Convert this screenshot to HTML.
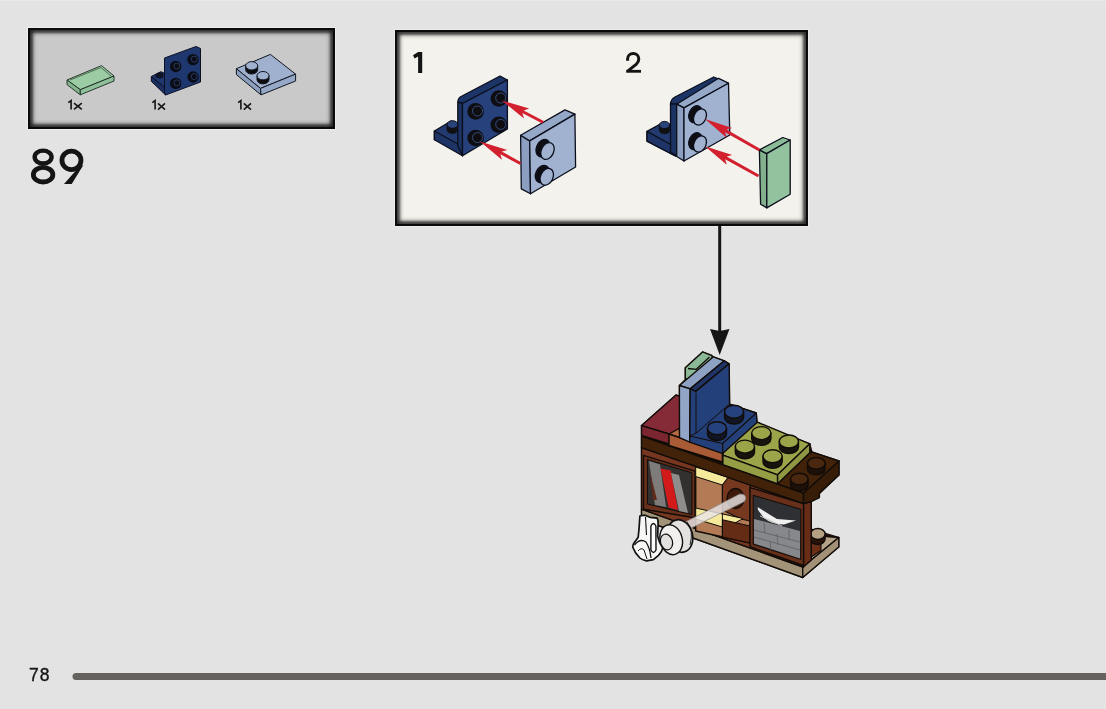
<!DOCTYPE html>
<html><head><meta charset="utf-8">
<style>
html,body{margin:0;padding:0;}
body{width:1106px;height:709px;overflow:hidden;background:#e3e3e3;position:relative;font-family:"Liberation Sans",sans-serif;}
.box{position:absolute;box-sizing:border-box;border:2.5px solid #0a0a0a;box-shadow:0 0 0 1px rgba(250,250,250,0.4), inset 0 0 5px 2px rgba(0,0,0,0.8), inset 0 0 2px 3px rgba(0,0,0,0.35);}
#b1{left:28px;top:28px;width:307px;height:101px;background:#c8c9c8;}
#b2{left:395px;top:30px;width:413px;height:196px;background:#f3f2ec;}
.t{position:absolute;color:#141414;white-space:nowrap;line-height:1;will-change:transform;}
svg{position:absolute;left:0;top:0;}
</style></head><body>
<div style="position:absolute;left:0;top:0;width:1106px;height:1px;background:#e9e9e9;"></div>
<div style="position:absolute;right:0;top:0;width:1px;height:709px;background:#e7e7e7;"></div>
<div class="box" id="b1"></div>
<div class="box" id="b2"></div>
<div class="t" style="left:28.5px;top:667px;font-size:17.5px;letter-spacing:1px;-webkit-text-stroke:0.35px #141414;">78</div>
<svg width="1106" height="709" viewBox="0 0 1106 709">
  <!-- page line -->
  <line x1="76" y1="676.5" x2="1120" y2="676.5" stroke="#66625e" stroke-width="7" stroke-linecap="round"/>
  <!-- 89 -->
  <g fill="none" stroke="#141414">
    <ellipse cx="43.1" cy="157.1" rx="8.45" ry="6.45" stroke-width="4.4"/>
    <ellipse cx="43.1" cy="174.7" rx="9.75" ry="7.3" stroke-width="4.8"/>
    <ellipse cx="71.45" cy="160.35" rx="9.5" ry="9.2" stroke-width="4.8"/>
  </g>
  <path d="M78.6 167.5 L64 184 L71.7 184 L83.4 165 Z" fill="#141414"/>
  <!-- labels -->
  <g fill="none" stroke="#151515" stroke-width="1.6" stroke-linejoin="miter">
    <path d="M68.3 102.6 L71.1 100.6 L71.1 109.4"/><path d="M74 103.2 L81.8 109.4 M81.8 103.2 L74 109.4" stroke-width="1.6"/>
    <path d="M152.3 102.6 L155.1 100.6 L155.1 109.6"/><path d="M158 103.4 L165 109.6 M165 103.4 L158 109.6" stroke-width="1.6"/>
    <path d="M238.1 102.6 L240.9 100.6 L240.9 109.6"/><path d="M243.8 103.4 L251 109.6 M251 103.4 L243.8 109.6" stroke-width="1.6"/>
  </g>
  <path d="M418.1 52.1 L422.2 52.1 L422.2 73 L418.1 73 L418.1 56.5 L414.6 58.6 L413 55.2 Z" fill="#141414"/>
  <path d="M627.6 60.8 L627.6 59 A5.6 5.6 0 0 1 638.8 59 Q638.8 62 636.4 64.2 L627.4 71.4" fill="none" stroke="#141414" stroke-width="3"/><rect x="626.2" y="69.9" width="14.8" height="2.8" fill="#141414"/>
  <!-- left box parts -->
  <g stroke="#1a2a1e" stroke-width="0.9" stroke-linejoin="round">
    <path d="M67 80 L101.5 65.6 L114 76 L80.3 89.7 Z" fill="#9ccca4"/>
    <path d="M67 80 L80.3 89.7 L80.3 94.8 L67 84.6 Z" fill="#86b690"/>
    <path d="M80.3 89.7 L114 76 L114 81 L80.3 94.8 Z" fill="#90c09a"/>
    <path d="M70 80 L101 67.5 L111 76" fill="none" stroke-width="0.6"/>
  </g>
  <g stroke="#0a0f22" stroke-width="1" stroke-linejoin="round">
    <path d="M151.3 76.5 L160.9 71.7 L165 73.5 L165 88 Z" fill="#1f376f"/>
    <path d="M151.3 76.5 L165 88 L165.6 95 L151.3 81.3 Z" fill="#1a2f60"/>
    <ellipse cx="159.5" cy="75.5" rx="3.6" ry="2.6" fill="#111522"/>
    <path d="M164.5 58 L196 46.5 L200.5 48.5 L200.5 82 L165.6 95 L164.5 93 Z" fill="#1f376f"/>
    <g fill="#0b0d16" stroke="none">
      <circle cx="175.7" cy="66.5" r="5.7"/><circle cx="193" cy="59.6" r="5.7"/>
      <circle cx="175.7" cy="83.4" r="5.7"/><circle cx="193" cy="77" r="5.7"/>
    </g>
    <g fill="none" stroke="#34497a" stroke-width="0.7">
      <circle cx="176.9" cy="66" r="3"/><circle cx="194.2" cy="59.1" r="3"/>
      <circle cx="176.9" cy="82.9" r="3"/><circle cx="194.2" cy="76.5" r="3"/>
    </g>
  </g>
  <g stroke="#12161f" stroke-width="1" stroke-linejoin="round">
    <path d="M236.4 68.7 L270.4 54.4 L295.6 74.1 L260.5 88.4 Z" fill="#a0b1cf"/>
    <path d="M236.4 68.7 L260.5 88.4 L261 94.9 L236.4 74.6 Z" fill="#8d9fbf"/>
    <path d="M260.5 88.4 L295.6 74.1 L295.6 81 L261 94.9 Z" fill="#96a8c7"/>
    <path d="M245.7 65.8 L245.7 69.8 A6 4.2 0 0 0 257.7 69.8 L257.7 65.8 Z" fill="#0d0d10"/>
    <ellipse cx="251.7" cy="65.8" rx="6" ry="4.2" fill="#a0b1cf"/>
    <path d="M257 75.7 L257 79.7 A6 4.2 0 0 0 269 79.7 L269 75.7 Z" fill="#0d0d10"/>
    <ellipse cx="263" cy="75.7" rx="6" ry="4.2" fill="#a0b1cf"/>
  </g>
  <!-- step 1 -->
  <g stroke="#0b0f1c" stroke-width="1.3" stroke-linejoin="round">
    <path d="M434.4 131 L451.1 121 L458 123.5 L462.5 148 L434.4 139.7 Z" fill="#233a70"/>
    <path d="M434.4 131 L462.5 146.5 L462.5 155.8 L434.4 139.7 Z" fill="#1f3466"/>
    <path d="M447 124.5 L447 129.5 A5.5 4 0 0 0 458 129.5 L458 124.5 Z" fill="#111" stroke-width="0.8"/>
    <ellipse cx="452.5" cy="124.5" rx="5.5" ry="3.8" fill="#2a4479" stroke-width="1"/>
    <path d="M457.8 102.2 Q458 97.5 462 96 L500 76 L507.4 80 L462.5 103.5 Z" fill="#1d3467"/>
    <path d="M457.8 102.2 L462.5 103.5 L462.5 155.8 L457.8 146 Z" fill="#1c3263"/>
    <path d="M462.5 103.5 L507.4 80 L507.4 129 L462.5 155.8 Z" fill="#26417c"/>
    <g fill="#0e0e12" stroke="none">
      <circle cx="475.6" cy="111.4" r="8.3"/><circle cx="498.8" cy="98.5" r="8.3"/>
      <circle cx="475.6" cy="138" r="8.3"/><circle cx="498.8" cy="124.8" r="8.3"/>
    </g>
    <g fill="none" stroke="#3a5488" stroke-width="0.9">
      <circle cx="477.5" cy="111" r="5"/><circle cx="500.7" cy="98.1" r="5"/>
      <circle cx="477.5" cy="137.6" r="5"/><circle cx="500.7" cy="124.4" r="5"/>
    </g>
  </g>
  <g stroke="#0b0f1c" stroke-width="1.3" stroke-linejoin="round">
    <path d="M520.6 135.3 L529.7 140.9 L530.5 193.8 L521.3 188.9 Z" fill="#8c9fc0"/>
    <path d="M520.6 135.3 L565 109.9 L574.9 114.1 L529.7 140.9 Z" fill="#95a8c8"/>
    <path d="M529.7 140.9 L574.9 114.1 L575.6 167 L530.5 193.8 Z" fill="#a0b2d0"/>
    <ellipse cx="543.0" cy="148.2" rx="6.5" ry="9.100000000000001" transform="rotate(25 543.0 148.2)" fill="#0e0e12"/><path d="M551.5 144.6 L547.0 141.8 L539.0 154.6 L543.5 157.4 Z" fill="#0e0e12" stroke="none"/><ellipse cx="547.5" cy="151.0" rx="6.2" ry="8.8" transform="rotate(25 547.5 151.0)" fill="#a0b2d0"/><ellipse cx="542.3" cy="174.0" rx="6.5" ry="9.100000000000001" transform="rotate(25 542.3 174.0)" fill="#0e0e12"/><path d="M550.8 170.4 L546.3 167.6 L538.3 180.4 L542.8 183.2 Z" fill="#0e0e12" stroke="none"/><ellipse cx="546.8" cy="176.8" rx="6.2" ry="8.8" transform="rotate(25 546.8 176.8)" fill="#a0b2d0"/>
    
  </g>
    <!-- step 2 -->
  <g stroke="#0b0f1c" stroke-width="1.3" stroke-linejoin="round">
    <path d="M647 131.4 L664 122 L676 127 L676 156 L675.4 156 L647 141.2 Z" fill="#233a70"/>
    <path d="M647 131.4 L675.4 147 L675.4 156 L647 141.2 Z" fill="#1f3466"/>
    <path d="M659.3 125 L659.3 130 A5.2 3.8 0 0 0 669.7 130 L669.7 125 Z" fill="#111" stroke-width="0.8"/>
    <ellipse cx="664.5" cy="125" rx="5.2" ry="3.6" fill="#2a4479" stroke-width="1"/>
    <path d="M670.5 104 Q671 99 675 97 L713.7 77 L720 79.5 L676.7 104.2 Z" fill="#1d3467"/>
    <path d="M670.5 104 L676.7 104.2 L676.7 156 L670.5 152 Z" fill="#1c3263"/>
    <path d="M676.7 104.2 L718.6 78.3 L728.5 83.2 L684 107.9 Z" fill="#95a8c8"/>
    <path d="M676.7 104.2 L684 107.9 L684 161 L676.7 156.5 Z" fill="#8c9fc0"/>
    <path d="M684 107.9 L728.5 83.2 L729.8 135 L684 161 Z" fill="#a0b2d0"/>
    <ellipse cx="695.5" cy="114.2" rx="6.3" ry="8.8" transform="rotate(25 695.5 114.2)" fill="#0e0e12"/><path d="M703.8 110.8 L699.3 108.0 L691.7 120.4 L696.2 123.2 Z" fill="#0e0e12" stroke="none"/><ellipse cx="700.0" cy="117.0" rx="6" ry="8.5" transform="rotate(25 700.0 117.0)" fill="#a0b2d0"/><ellipse cx="695.5" cy="141.2" rx="6.3" ry="8.8" transform="rotate(25 695.5 141.2)" fill="#0e0e12"/><path d="M703.8 137.8 L699.3 135.0 L691.7 147.4 L696.2 150.2 Z" fill="#0e0e12" stroke="none"/><ellipse cx="700.0" cy="144.0" rx="6" ry="8.5" transform="rotate(25 700.0 144.0)" fill="#a0b2d0"/>
    
  </g>
  <g stroke="#0b0f1c" stroke-width="1.3" stroke-linejoin="round">
    <path d="M759.4 149.9 L766.8 153.6 L766.8 207.9 L760.6 204.2 Z" fill="#82af8c"/>
    <path d="M759.4 149.9 L782.8 137.5 L790.2 140 L766.8 153.6 Z" fill="#8bba96"/>
    <path d="M766.8 153.6 L790.2 140 L790.2 194.3 L766.8 207.9 Z" fill="#93c29e"/>
  </g>
    <g fill="#d3202f"><path d="M501.8 100.5 L529.2 108.6 L523.7 110.4 L543.7 120.9 L542.3 123.5 L522.3 113.0 L524.0 118.5 Z"/><path d="M480.0 141.5 L507.3 149.9 L501.8 151.6 L521.2 162.2 L519.8 164.8 L500.4 154.3 L501.9 159.8 Z"/><path d="M705.0 119.0 L732.1 128.0 L726.6 129.6 L760.1 148.7 L758.7 151.3 L725.1 132.2 L726.6 137.7 Z"/><path d="M705.0 146.2 L732.2 154.9 L726.7 156.6 L759.2 174.7 L757.8 177.3 L725.2 159.2 L726.7 164.7 Z"/></g>
  <!-- main model -->
  <path d="M641.5 425.6 L676 395 L679.4 396.5 L679.4 385.5 L685.3 379.5 L685.3 367.7 L702.6 351.9 L713.4 356.8 L724.3 360.8 L729.2 363.8 L729.6 404.1 L756.3 413 L757 422 L769.2 428.5 L809.8 443.8 L812 452 L839 461 L839 475 L811.2 501.6 L811.2 529 L838.8 537.5 L838.8 547 L802.7 577.5 L641.5 519.5 L641.5 447.6 Z" fill="#1a0f08" stroke="#1a0f08" stroke-width="1.2"/>
  <g stroke="#120c08" stroke-width="1.4" stroke-linejoin="round">
    <!-- tan base -->
    <path d="M641.5 509.2 L802.7 567 L802.7 577.5 L641.5 519.5 Z" fill="#a39378"/>
    <path d="M805 560 L820 536 L838.8 537.5 L802.7 567 Z" fill="#b3a287"/>
    <path d="M802.7 567 L838.8 537.5 L838.8 547 L802.7 577.5 Z" fill="#a29176"/>
    <path d="M811.2 538 L821 541 L821 550.5 L811.2 557 Z" fill="#6b2f18" stroke-width="1.1"/>
    <path d="M810.5 534 L810.5 539 A7.3 5.5 0 0 0 825.1 539 L825.1 534 Z" fill="#2a140a"/>
    <ellipse cx="817.8" cy="534" rx="7.3" ry="5.5" fill="#b5a083"/>
    <!-- body -->
    <path d="M641.5 447.6 L803.5 503.5 L803.5 567 L641.5 509.2 Z" fill="#763620"/>
    <path d="M803.5 503.5 L811.2 501.6 L811.2 560 L803.5 567 Z" fill="#672d16"/>
    <!-- left window -->
    <path d="M643.5 455.3 L695 471.2 L695 517.7 L643.5 509.3 Z" fill="#68301a"/>
    <path d="M647.4 459.5 L691.9 472.8 L691.9 514.6 L647.4 504 Z" fill="#333030" stroke-width="1"/>
    <g stroke="none">
      <path d="M649 461 L660 464.5 L666 507 L655 505 Z" fill="#7e7c7b"/>
      <path d="M660.6 468.5 L670.7 470.5 L678 510 L668.6 507.5 Z" fill="#d21a1a"/>
      <path d="M671 473 L679 475 L688 513 L679 511 Z" fill="#8f8d8c"/>
      <path d="M650 470 L652 480 L657 500 L653 500 Z" fill="#5e2a1a"/>
    </g>
    <!-- center lit compartment -->
    <path d="M695.7 467 L750 485 L750 543 L695.7 531 Z" fill="#b27b55"/>
    <path d="M695.7 467 L729 477.5 L722.4 485 L695.7 476.5 Z" fill="#f5ea9c" stroke-width="1"/>
    <path d="M728 477.5 L750 485 L750 521 L741 519 L722.4 510 L722.4 485 Z" fill="#773820" stroke-width="1.1"/>
    <path d="M695.7 508 L743 518.5 L735 523 L722.4 527 L695.7 519 Z" fill="#f5ea9c" stroke-width="1"/>
    <path d="M722.4 519.7 L750 526 L750 543 L722.4 537 Z" fill="#642b15" stroke-width="1.1"/>
    <path d="M722.4 485 L722.4 537" fill="none" stroke-width="1"/>
    <!-- right window -->
    <path d="M750 487.7 L803.5 503.5 L803.5 565.5 L750 546.7 Z" fill="#68301a"/>
    <path d="M753.2 495.3 L800.8 509.3 L800.8 559.4 L753.2 544.2 Z" fill="#2e3033" stroke-width="1"/>
    <g stroke="none">
      <path d="M754 519 L800 531 L800 558.5 L754 543.5 Z" fill="#86888b"/>
      <path d="M754 530 L800 542 M754 537 L800 550 M764 523 L765 533 M777 534 L778 545 M789 530 L789 540 M770 541 L771 550" stroke="#5e6063" stroke-width="0.8" fill="none"/>
      <path d="M757.7 507 Q768 514 777 519 L796 520.5 L784 524.5 Q771 524 764 518 L758 510 Z" fill="#efefef"/>
      <path d="M760 516 L782 526" stroke="#bbb" stroke-width="1" fill="none"/>
    </g>
    <!-- hole for key -->
    <ellipse cx="735.5" cy="498.5" rx="8.5" ry="10" fill="#3d1a0a" stroke-width="1.3"/>
    <!-- shelf top plate -->
    <path d="M641.5 436.2 L803.5 493 L803.5 503.5 L641.5 447.6 Z" fill="#42230a"/>
    <path d="M803.5 493 L839 461 L839 475 L819.4 492.7 L819.4 497.6 L811.2 501.6 L803.5 503.5 Z" fill="#371d08"/>
    <path d="M777.6 483.8 L809.8 452.8 L812 452 L839 461 L803.5 493 Z" fill="#42230a"/>
    <path d="M807.5 463.3 L807.5 469 A8.8 5.8 0 0 0 825.1 469 L825.1 463.3 Z" fill="#1d1008"/>
    <ellipse cx="816.3" cy="463.3" rx="8.8" ry="5.8" fill="#4a2810"/>
    <path d="M790.5 479 L790.5 485 A8.8 5.8 0 0 0 808.1 485 L808.1 479 Z" fill="#1d1008"/>
    <ellipse cx="799.3" cy="479" rx="8.8" ry="5.8" fill="#4a2810"/>
    <!-- red brick -->
    <path d="M641.5 425.6 L676 395 L682 397 L682 440 L669 434 Z" fill="#852b37"/>
    <path d="M641.5 425.6 L669 434 L669 443.8 L641.5 435.3 Z" fill="#7c2631"/>
    <!-- orange plate -->
    <path d="M669 434 L678.3 429 L700 430 L722.4 443 L722.4 452.3 Z" fill="#b56a3f"/>
    <path d="M669 434 L722.4 452.3 L722.4 462 L669 445.5 Z" fill="#a95b36"/>
    <!-- olive plate -->
    <path d="M722.9 455.1 L722.9 445 L757 422 L809.8 443.8 L777.6 474.8 Z" fill="#9ca449"/>
    <path d="M722.9 455.1 L777.6 474.8 L777.6 483.8 L722.9 464.7 Z" fill="#959d45"/>
    <path d="M777.6 474.8 L809.8 443.8 L809.8 452.8 L777.6 483.8 Z" fill="#8f9742"/>
    <g>
      <path d="M751.7 433.1 L751.7 438.7 A9.6 6.5 0 0 0 770.9 438.7 L770.9 433.1 Z" fill="#16140c"/>
      <ellipse cx="761.3" cy="433.1" rx="9.6" ry="6.5" fill="#9ca449"/>
      <path d="M779.3 441.5 L779.3 447.1 A9.6 6.5 0 0 0 798.5 447.1 L798.5 441.5 Z" fill="#16140c"/>
      <ellipse cx="788.9" cy="441.5" rx="9.6" ry="6.5" fill="#9ca449"/>
      <path d="M735.3 446.6 L735.3 452.2 A9.6 6.5 0 0 0 754.5 452.2 L754.5 446.6 Z" fill="#16140c"/>
      <ellipse cx="744.9" cy="446.6" rx="9.6" ry="6.5" fill="#9ca449"/>
      <path d="M763 456.2 L763 461.8 A9.6 6.5 0 0 0 782.2 461.8 L782.2 456.2 Z" fill="#16140c"/>
      <ellipse cx="772.6" cy="456.2" rx="9.6" ry="6.5" fill="#9ca449"/>
    </g>
    <!-- green tile behind -->
    <path d="M685.3 367.7 L702.6 351.9 L712 355.5 L712 380 L685.3 378.6 Z" fill="#8bb997"/>
    <path d="M688 368.5 L696.3 369.3 L709.5 357" fill="none" stroke-width="1.3"/>
    <!-- light blue plate -->
    <path d="M679.4 385.5 L713.4 356.8 L724.3 360.8 L690.2 388.9 Z" fill="#8ea2c4"/>
    <path d="M679.4 385.5 L690.2 388.9 L689.7 442.2 L679.5 437.7 Z" fill="#90a5c8"/>
    <!-- dark blue bracket -->
    <path d="M690.2 388.9 L724.3 360.8 L729.2 363.8 L695.7 391.4 Z" fill="#1e3566"/>
    <path d="M695.7 391.4 L729.2 363.8 L729.6 404.1 L756.3 413 L757 422.5 L722.7 453.6 L689.7 442.2 L690.2 388.9 Z" fill="#24407b"/>
    <path d="M696 392.7 L696 433.3 L729.6 404.1" fill="none" stroke-width="1"/>
    <path d="M696 433.3 L689.7 436" fill="none" stroke-width="1"/>
    <path d="M689.7 436 L722.7 443.5 L722.7 453.6" fill="none" stroke-width="1.2"/>
    <path d="M722.7 443.5 L756.3 413" fill="none" stroke-width="1.1"/>
    <path d="M724.6 411.7 L724.6 417.5 A9.5 6.5 0 0 0 743.6 417.5 L743.6 411.7 Z" fill="#111625"/>
    <ellipse cx="734.1" cy="411.7" rx="9.5" ry="6.5" fill="#26427e"/>
    <path d="M707.5 428.2 L707.5 434 A9.5 6.5 0 0 0 726.5 434 L726.5 428.2 Z" fill="#111625"/>
    <ellipse cx="717" cy="428.2" rx="9.5" ry="6.5" fill="#26427e"/>
  </g>
  <!-- key -->
  <g stroke="#111" stroke-width="1.2" stroke-linejoin="round">
    <path d="M684 522.8 L739.5 494.3 Q745.5 493.5 745.5 498.5 Q745 501.5 743.4 501.9 L689 529.1 Z" fill="#e9e5e6" fill-opacity="0.82" stroke="#9d9693" stroke-width="0.9"/>
    <ellipse cx="680" cy="536" rx="12.5" ry="16.5" transform="rotate(-15 680 536)" fill="#e4e2e0" stroke-width="1.7"/>
    <path d="M687 522 Q694 530 690 545" fill="none" stroke-width="0.9"/>
    <ellipse cx="671.2" cy="539.7" rx="11" ry="15.2" transform="rotate(-15 671.2 539.7)" fill="#f1f0ef" stroke-width="1.4"/>
    <ellipse cx="666.5" cy="542" rx="6" ry="8" transform="rotate(-15 666.5 542)" fill="#e3e1e0" stroke-width="1.2"/>
    <path d="M639.9 516 L644.9 515.2 L650 517.3 L657.2 518.2 Q658.5 521 658.1 524.9 L657.6 535.9 Q659 541 660.2 543.6 L662.7 547.8 Q662 552 658.5 555.4 L653.4 559.7 L646.6 560.9 Q642 560 639.9 558 L635.6 552.9 L632.7 547 Q633 544 634.8 541.9 L638.2 537.2 L639 529.2 Z" fill="#f7f7f6" stroke-width="1.7"/>
    <path d="M650.9 526 Q653.4 521 655.9 526 L656 550 Q653.4 555 650.9 550 Z" fill="#fff" stroke-width="1.4"/>
    <path d="M645.5 517 L646.5 535" fill="none" stroke-width="1.1"/>
    <path d="M634.5 545 Q640 538 646 542 Q650 548 651 558" fill="none" stroke-width="1.3"/>
    <path d="M638 551 Q641 547 644 550 L647 559" fill="none" stroke-width="1"/>
  </g>

  <!-- arrow -->
  <line x1="719.7" y1="226" x2="719.7" y2="332" stroke="#161616" stroke-width="3"/>
  <path d="M710 329 L719.7 331 L729.5 329 L719.7 355 Z" fill="#161616"/>
</svg>
</body></html>
